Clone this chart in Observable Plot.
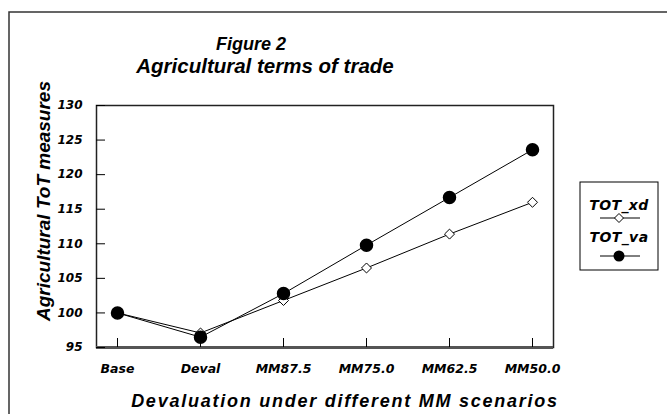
<!DOCTYPE html>
<html><head><meta charset="utf-8">
<script src="https://cdn.jsdelivr.net/npm/d3@7"></script>
<script src="https://cdn.jsdelivr.net/npm/@observablehq/plot@0.6"></script>
<style>
body{margin:0;background:#fff;}
#wrap{position:relative;width:667px;height:414px;overflow:hidden;background:#fff;}
#chart,#over{position:absolute;left:0;top:0;}
#over{pointer-events:none;}
.bi{font-family:"Liberation Sans",Arial,sans-serif;font-weight:bold;font-style:italic;fill:#000;}
.dj{font-family:"DejaVu Sans",sans-serif;font-weight:bold;font-style:italic;fill:#000;}
</style></head><body>
<div id="wrap"><div id="chart"></div>
<svg id="over" width="667" height="414" xmlns="http://www.w3.org/2000/svg"></svg></div>
<script>
const categories = ["Base","Deval","MM87.5","MM75.0","MM62.5","MM50.0"];
const totXd = [100, 97.1, 101.8, 106.5, 111.4, 116.0];
const totVa = [100, 96.5, 102.8, 109.8, 116.7, 123.6];
const yTicks = [95,100,105,110,115,120,125,130];
const seriesNames = ["TOT_xd","TOT_va"];

const rows = [];
categories.forEach((c,i)=>{
  rows.push({cat:c, series:"TOT_xd", value: totXd[i]});
  rows.push({cat:c, series:"TOT_va", value: totVa[i]});
});
const xd = rows.filter(d=>d.series==="TOT_xd");
const va = rows.filter(d=>d.series==="TOT_va");

const font = "'DejaVu Sans', sans-serif";
const plot = Plot.plot({
  width: 667, height: 414,
  marginTop: 105, marginRight: 114, marginBottom: 67, marginLeft: 96,
  style: {fontFamily: font, fontWeight: "bold", fontStyle: "italic", background: "transparent", color: "#000"},
  x: {type: "point", domain: categories, padding: 0.25},
  y: {domain: [95,130]},
  marks: [
    Plot.frame({stroke: "#222", strokeWidth: 1.5}),
    Plot.ruleY([95], {stroke: "#555", strokeWidth: 3}),
    Plot.tickX(categories, {x: d=>d, stroke: "#000", insetTop: 233}),
    Plot.tickY(yTicks, {y: d=>d, stroke: "#000", insetRight: 448}),
    Plot.axisX({ticks: categories, tickSize: 0, tickPadding: 17, fontSize: 12.5, label: null, style:{letterSpacing:"0.3px"}}),
    Plot.axisY({ticks: yTicks, tickSize: 0, tickPadding: 14, fontSize: 12, label: null}),
    Plot.line(xd, {x: "cat", y: "value", stroke: "#000", strokeWidth: 1}),
    Plot.line(va, {x: "cat", y: "value", stroke: "#000", strokeWidth: 1}),
    Plot.dot(xd, {x: "cat", y: "value", symbol: "diamond2", r: 4.5, fill: "#fff", stroke: "#000", strokeWidth: 1}),
    Plot.dot(va, {x: "cat", y: "value", r: 6, fill: "#000", stroke: "#000"})
  ]
});
document.getElementById("chart").appendChild(plot);

const over = d3.select("#over");
// outer border
over.append("rect").attr("x", 9).attr("y", 12).attr("width", 700).attr("height", 450)
  .attr("fill", "none").attr("stroke", "#333").attr("stroke-width", 1.5);
// titles
over.append("text").attr("class","bi").attr("x", 251).attr("y", 50).attr("text-anchor","middle")
  .style("font-size","18px").text("Figure 2");
over.append("text").attr("class","bi").attr("x", 265).attr("y", 73).attr("text-anchor","middle")
  .style("font-size","20.5px").text("Agricultural terms of trade");
// axis titles
over.append("text").attr("class","bi").attr("transform","translate(50,201) rotate(-90)").attr("text-anchor","middle")
  .style("font-size","19px").text("Agricultural ToT measures");
over.append("text").attr("class","bi").attr("x", 345).attr("y", 407).attr("text-anchor","middle")
  .style("font-size","18px").style("letter-spacing","1.75px").text("Devaluation under different MM scenarios");
// legend
const lg = over.append("g");
lg.append("rect").attr("x",580).attr("y",182).attr("width",78).attr("height",88)
  .attr("fill","#fff").attr("stroke","#000").attr("stroke-width",1);
const lgRows = [{name: seriesNames[0], ty: 210, ly: 218, sym: "diamond"}, {name: seriesNames[1], ty: 242, ly: 256, sym: "circle"}];
lgRows.forEach(r=>{
  lg.append("text").attr("class","dj").attr("x",619).attr("y",r.ty).attr("text-anchor","middle")
    .style("font-size","14px").style("letter-spacing","0.4px").text(r.name);
  lg.append("line").attr("x1",600).attr("x2",640).attr("y1",r.ly).attr("y2",r.ly).attr("stroke","#000");
  if (r.sym==="diamond") {
    lg.append("path").attr("d", `M619,${r.ly-4.5}L623.5,${r.ly}L619,${r.ly+4.5}L614.5,${r.ly}Z`).attr("fill","#fff").attr("stroke","#000");
  } else {
    lg.append("circle").attr("cx",619).attr("cy",r.ly).attr("r",5.5).attr("fill","#000");
  }
});
</script>
</body></html>
